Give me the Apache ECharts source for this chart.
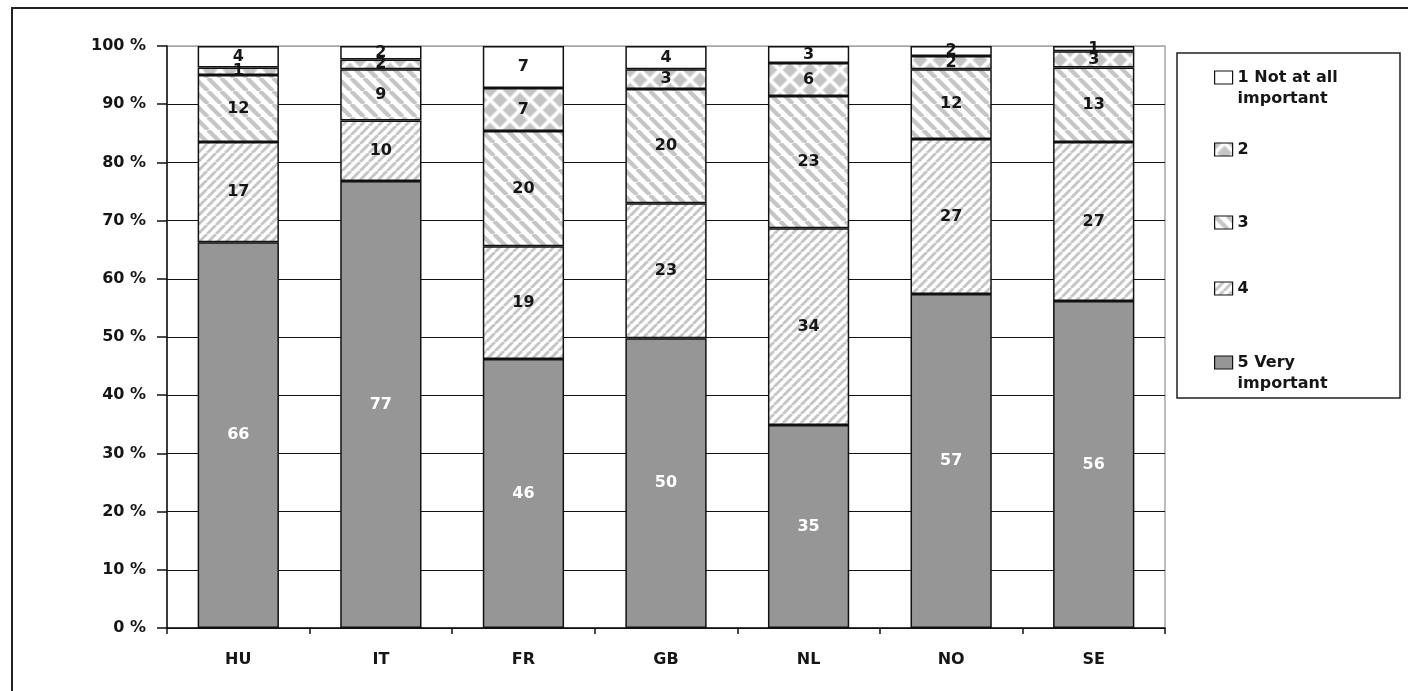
<!DOCTYPE html>
<html>
<head>
<meta charset="utf-8">
<title>Importance ratings by country</title>
<script src="https://cdn.jsdelivr.net/npm/echarts@6/dist/echarts.min.js"></script>
<style>
  html, body { margin: 0; padding: 0; background: #fff; }
  #chart { width: 1408px; height: 691px; }
</style>
</head>
<body>
<div id="chart"></div>
<script>
// Countries on the category axis
const categories = ['HU', 'IT', 'FR', 'GB', 'NL', 'NO', 'SE'];

// Share of respondents (%) per rating, stacked from "5 Very important" upward
const rating5 = [66.3, 76.8, 46.2, 49.8, 34.9, 57.4, 56.2];
const rating4 = [17.2, 10.4, 19.4, 23.2, 33.8, 26.6, 27.3];
const rating3 = [11.5, 8.8, 19.8, 19.6, 22.7, 12.0, 12.8];
const rating2 = [1.3, 1.7, 7.4, 3.4, 5.7, 2.3, 2.8];
const rating1 = [3.7, 2.3, 7.2, 4.0, 2.9, 1.7, 0.9];

// Series names and their legend wording
const seriesNames = ['1 Not at all important', '2', '3', '4', '5 Very important'];
// A leading blank line keeps the icon level with the first line of text
const legendLines = {
  '1 Not at all important': '\n1 Not at all\nimportant',
  '5 Very important': '\n5 Very\nimportant'
};

const FONT = "'DejaVu Sans', Verdana, sans-serif";

// ---- fill patterns ----
function stripeTile(period, width, backslash, colour) {
  const c = document.createElement('canvas');
  c.width = period; c.height = period;
  const g = c.getContext('2d');
  g.fillStyle = '#fff';
  g.fillRect(0, 0, period, period);
  g.strokeStyle = colour;
  g.lineWidth = width;
  for (let k = -1; k <= 1; k++) {
    g.beginPath();
    if (backslash) {
      g.moveTo(k * period, 0);
      g.lineTo(k * period + period, period);
    } else {
      g.moveTo(k * period, period);
      g.lineTo(k * period + period, 0);
    }
    g.stroke();
  }
  return c;
}

function diamondTile(size, r) {
  const c = document.createElement('canvas');
  c.width = size; c.height = size;
  const g = c.getContext('2d');
  g.fillStyle = '#fff';
  g.fillRect(0, 0, size, size);
  g.fillStyle = '#c4c4c4';
  g.strokeStyle = '#d6d6d6';
  g.lineWidth = 1.2;
  const centers = [[size / 2, size / 2], [0, 0], [size, 0], [0, size], [size, size]];
  centers.forEach(([cx, cy]) => {
    g.beginPath();
    g.moveTo(cx, cy - r);
    g.lineTo(cx + r, cy);
    g.lineTo(cx, cy + r);
    g.lineTo(cx - r, cy);
    g.closePath();
    g.fill();
    g.stroke();
  });
  return c;
}

const fills = {
  '1 Not at all important': '#ffffff',
  '2': { image: diamondTile(20, 7), repeat: 'repeat' },
  '3': { image: stripeTile(13, 4.2, true, '#c6c6c6'), repeat: 'repeat' },
  '4': { image: stripeTile(9, 3, false, '#c6c6c6'), repeat: 'repeat' },
  '5 Very important': '#969696'
};

const valuesByName = {
  '5 Very important': rating5,
  '4': rating4,
  '3': rating3,
  '2': rating2,
  '1 Not at all important': rating1
};

// Bottom-to-top stacking order
const stackOrder = ['5 Very important', '4', '3', '2', '1 Not at all important'];

const series = stackOrder.map(name => ({
  name: name,
  type: 'bar',
  stack: 'share',
  barWidth: '57%',
  data: valuesByName[name],
  itemStyle: {
    color: fills[name],
    borderColor: '#111',
    borderWidth: 1.5
  },
  label: {
    show: true,
    position: 'inside',
    formatter: p => String(Math.round(p.value)),
    color: name === '5 Very important' ? '#ffffff' : '#161616',
    fontFamily: FONT,
    fontWeight: 'bold',
    fontSize: 16
  },
  emphasis: { disabled: true }
}));

// One legend block per entry so each row sits at its own height
const legendTops = [46, 139, 212, 278, 331];
const legends = seriesNames.map((name, i) => ({
  data: [name],
  orient: 'vertical',
  left: 1214,
  top: legendTops[i],
  padding: 0,
  itemWidth: 18,
  itemHeight: 13,
  icon: 'rect',
  selectedMode: false,
  itemStyle: { borderColor: '#111', borderWidth: 1.2 },
  formatter: n => legendLines[n] || n,
  textStyle: {
    fontFamily: FONT,
    fontWeight: 'bold',
    fontSize: 16,
    color: '#161616',
    lineHeight: 21
  }
}));

const chart = echarts.init(document.getElementById('chart'), null, { renderer: 'canvas' });

const splitColors = [];
for (let i = 0; i < 10; i++) splitColors.push('#111');
splitColors.push('#a8a8a8');

chart.setOption({
  animation: false,
  backgroundColor: '#ffffff',
  grid: {
    left: 167, top: 46, right: 243, bottom: 63,
    show: true,
    borderColor: '#a8a8a8',
    borderWidth: 1.5
  },
  legend: legends,
  xAxis: {
    type: 'category',
    data: categories,
    axisLine: { lineStyle: { color: '#111', width: 1.5 } },
    axisTick: { show: true, length: 6, lineStyle: { color: '#111', width: 1.5 } },
    axisLabel: {
      margin: 24,
      fontFamily: FONT,
      fontWeight: 'bold',
      fontSize: 16,
      color: '#161616'
    }
  },
  yAxis: {
    type: 'value',
    min: 0,
    max: 100,
    interval: 10,
    axisLine: { show: true, lineStyle: { color: '#111', width: 1.5 } },
    axisTick: { show: true, length: 10, lineStyle: { color: '#111', width: 1.5 } },
    splitLine: { show: true, lineStyle: { color: splitColors, width: 1.2 } },
    axisLabel: {
      margin: 21,
      formatter: '{value} %',
      fontFamily: FONT,
      fontWeight: 'bold',
      fontSize: 16,
      color: '#161616'
    }
  },
  series: series,
  graphic: [
    {
      type: 'rect',
      silent: true,
      shape: { x: 12, y: 8, width: 1500, height: 800 },
      style: { fill: 'none', stroke: '#222', lineWidth: 2 }
    },
    {
      type: 'rect',
      silent: true,
      shape: { x: 1177, y: 53, width: 223, height: 345 },
      style: { fill: 'none', stroke: '#222', lineWidth: 1.5 }
    }
  ]
});
</script>
</body>
</html>
